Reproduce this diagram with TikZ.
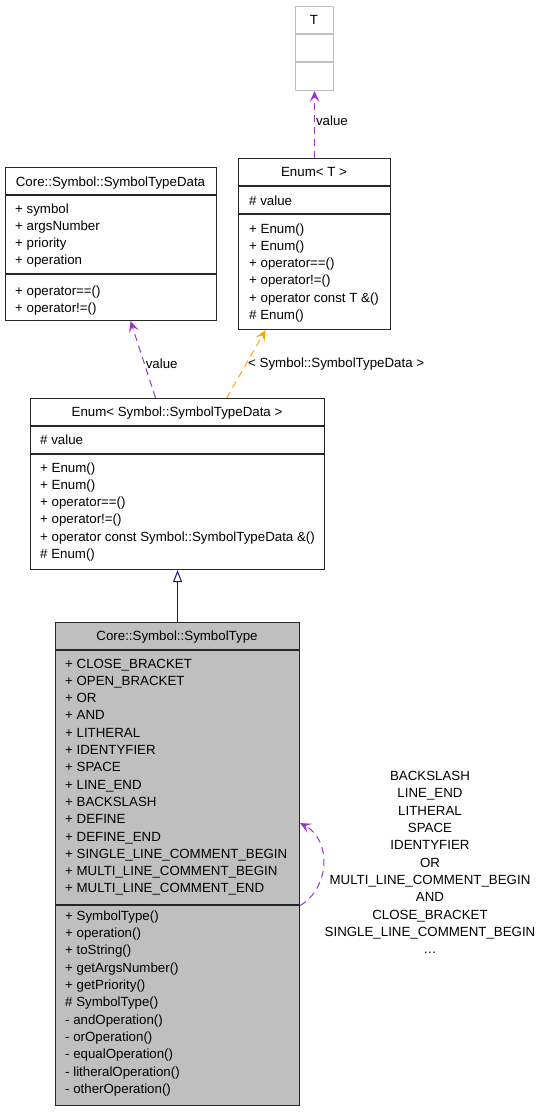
\documentclass[tikz,border=0pt]{standalone}
\usepackage{fontspec}
\setmainfont{Liberation Sans}
\usepackage{tikz}
\usetikzlibrary{arrows.meta}

\definecolor{usecol}{HTML}{9A32CD}
\definecolor{tplcol}{HTML}{FFA500}
\definecolor{inhcol}{HTML}{191970}
\definecolor{selcol}{HTML}{BFBFBF}
\newcommand{\diagfont}{\fontsize{13.3}{17.3}\selectfont}

\tikzset{
 classbox/.style={draw=black!85, line width=1.1pt, inner sep=0pt, anchor=north west},
 member/.style={anchor=base west, inner sep=0pt},
 ctitle/.style={anchor=base, inner sep=0pt},
 usedep/.style={draw=usecol, line width=1pt, dash pattern=on 7pt off 5pt,
   -{Stealth[length=11pt, width=10pt, inset=5pt, fill=usecol]}},
 tpldep/.style={draw=tplcol, line width=1pt, dash pattern=on 7pt off 5pt,
   -{Stealth[length=11pt, width=10pt, inset=5pt, fill=tplcol]}},
 inherit/.style={draw=inhcol, line width=1pt,
   -{Triangle[open, length=12pt, width=9pt, fill=white]}}
}

\begin{document}
\begin{tikzpicture}[x=1pt, y=-1pt, every node/.style={font=\diagfont}]
 \useasboundingbox (0,0) rectangle (541,1112);

 % template parameter T
 \node[classbox, draw=selcol, minimum width=38, minimum height=84] (tbox) at (295,6) {};
 \draw[selcol, line width=1.1pt] (295,34) -- (333,34) (295,62) -- (333,62);
 \node[ctitle] (tname) at (314,24) {T};

 % Enum< T >
 \node[classbox, minimum width=152, minimum height=171] (enumT) at (238,158) {};
 \draw[black!85, line width=1.1pt] (238,186) -- (390,186) (238,214) -- (390,214);
 \node[ctitle] (enumT-t) at (314,176) {Enum< T >};
 \node[member] (enumT-a1) at (249,205) {\# value};
 \foreach \m [count=\i] in {+ Enum(), + Enum(), + operator==(), + operator!=(),
   + operator const T \&(), \# Enum()}
  \node[member] (enumT-m\i) at (249,{233+(\i-1)*17.3}) {\m};

 % Core::Symbol::SymbolTypeData
 \node[classbox, minimum width=211, minimum height=153] (std) at (5,167) {};
 \draw[black!85, line width=1.1pt] (5,195) -- (216,195) (5,274) -- (216,274);
 \node[ctitle] (std-t) at (110.5,186) {Core::Symbol::SymbolTypeData};
 \foreach \m [count=\i] in {symbol, argsNumber, priority, operation}
  \node[member] (std-a\i) at (15,{213+(\i-1)*17.3}) {+ \m};
 \foreach \m [count=\i] in {operator==(), operator!=()}
  \node[member] (std-m\i) at (15,{295+(\i-1)*17.3}) {+ \m};

 % Enum< Symbol::SymbolTypeData >
 \node[classbox, minimum width=294, minimum height=171] (enumstd) at (30,398) {};
 \draw[black!85, line width=1.1pt] (30,426) -- (324,426) (30,454) -- (324,454);
 \node[ctitle] (enumstd-t) at (177,416) {Enum< Symbol::SymbolTypeData >};
 \node[member] (enumstd-a1) at (40,444) {\# value};
 \foreach \m [count=\i] in {+ Enum(), + Enum(), + operator==(), + operator!=(),
   + operator const Symbol::SymbolTypeData \&(), \# Enum()}
  \node[member] (enumstd-m\i) at (40,{472+(\i-1)*17.3}) {\m};

 % Core::Symbol::SymbolType
 \node[classbox, fill=selcol, minimum width=244, minimum height=483] (st) at (55,622) {};
 \draw[black!85, line width=1.1pt] (55,650) -- (299,650) (55,905) -- (299,905);
 \node[ctitle] (st-t) at (177,640) {Core::Symbol::SymbolType};
 \foreach \m [count=\i] in {CLOSE\_BRACKET, OPEN\_BRACKET, OR, AND, LITHERAL,
   IDENTYFIER, SPACE, LINE\_END, BACKSLASH, DEFINE, DEFINE\_END,
   SINGLE\_LINE\_COMMENT\_BEGIN, MULTI\_LINE\_COMMENT\_BEGIN, MULTI\_LINE\_COMMENT\_END}
  \node[member] (st-a\i) at (65,{668+(\i-1)*17.3}) {+ \m};
 \foreach \m [count=\i] in {+ SymbolType(), + operation(), + toString(),
   + getArgsNumber(), + getPriority(), \# SymbolType(), - andOperation(),
   - orOperation(), - equalOperation(), - litheralOperation(), - otherOperation()}
  \node[member] (st-m\i) at (65,{920+(\i-1)*17.35}) {\m};

 % relations
 \draw[usedep] (enumT) -- (tbox) node[pos=0.55, anchor=west, inner sep=1pt] (lbl-v1) {value};
 \draw[usedep] ([xshift=-22]enumstd.north) -- ([xshift=19.5]std.south)
   node[pos=0.45, anchor=west, inner sep=1pt] (lbl-v2) {value};
 \draw[tpldep] ([xshift=49]enumstd.north) -- ([xshift=-49]enumT.south);
 \node[member] (lbl-tpl) at (248,367) {< Symbol::SymbolTypeData >};
 \draw[inherit] (st) -- (enumstd);
 \draw[usedep] ([yshift=-41.5]st.east) .. controls (330,888) and (332,840) .. ([yshift=41]st.east);
 \node[align=center, inner sep=0pt] (lbl-self) at (430,862.5)
   {BACKSLASH\\LINE\_END\\LITHERAL\\SPACE\\IDENTYFIER\\OR\\MULTI\_LINE\_COMMENT\_BEGIN\\AND\\CLOSE\_BRACKET\\SINGLE\_LINE\_COMMENT\_BEGIN\\\dots};
\end{tikzpicture}
\end{document}
